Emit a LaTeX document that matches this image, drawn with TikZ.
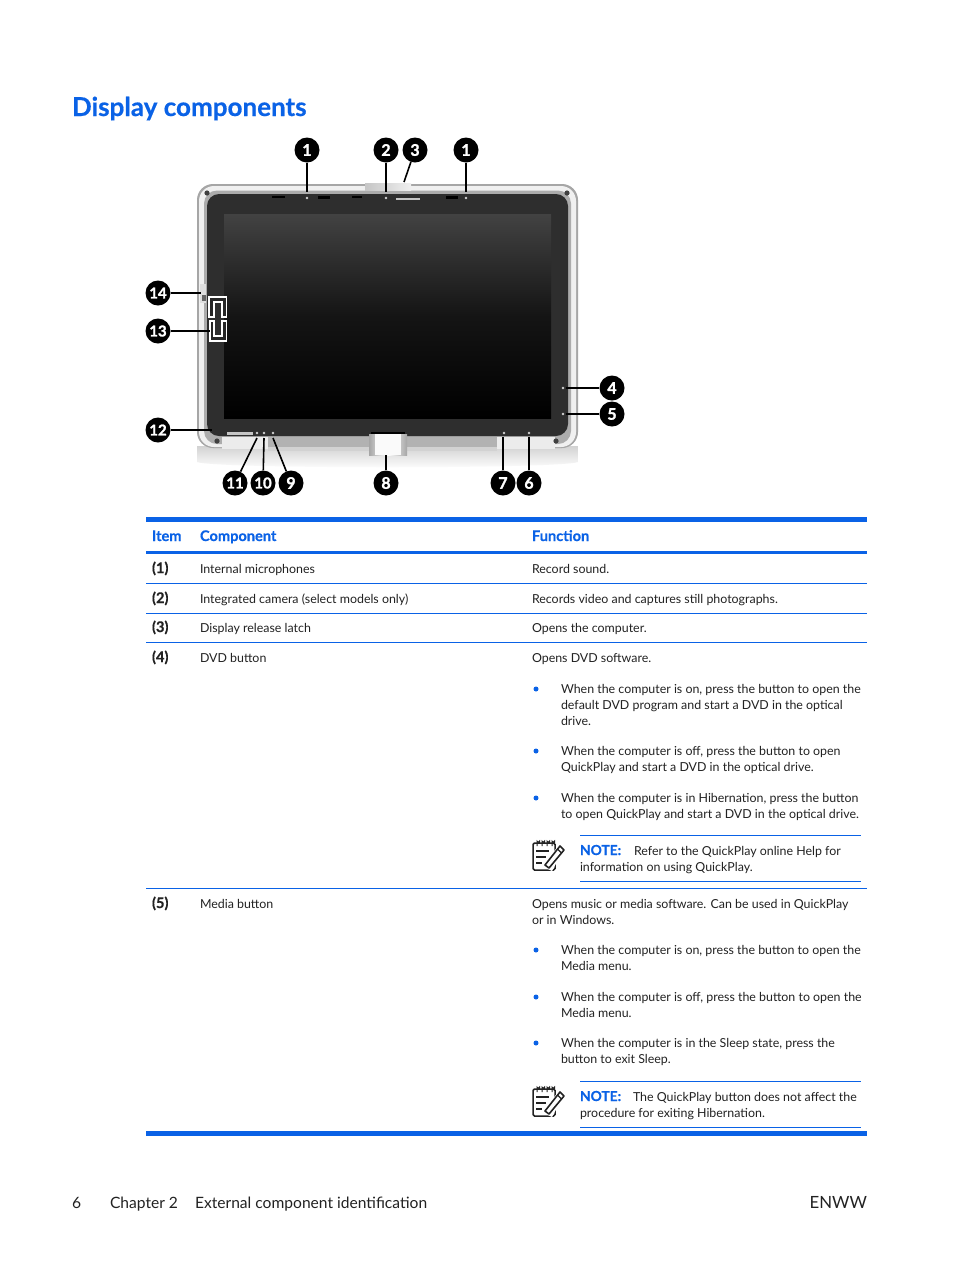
\documentclass[tikz,border=0pt]{standalone}
\usepackage{fontspec}
\setmainfont{Lato}
\newfontfamily\heavy{Lato}[BoldFeatures={FakeBold=1.5}]
\newfontfamily\semi{Lato}[BoldFeatures={FakeBold=0.5}]
\usetikzlibrary{calc}
\definecolor{hpblue}{HTML}{0A62E6}
\definecolor{ink}{HTML}{222222}
\tikzset{
  txt/.style={anchor=base west,inner sep=0pt,outer sep=0pt,text=ink,font=\fontsize{12.4}{16}\selectfont},
  txtbf/.style={txt,font=\fontsize{14.6}{16}\selectfont\semi\bfseries},
  hdr/.style={txt,text=hpblue,font=\fontsize{14.6}{16}\selectfont\semi\bfseries},
  foot/.style={txt,font=\fontsize{15.6}{20}\selectfont},
  callout/.style={circle,fill=black,minimum size=25pt,inner sep=0pt,text=white,font=\fontsize{16}{16}\selectfont\heavy\bfseries},
  calloutb/.style={callout,font=\fontsize{15}{16}\selectfont\heavy\bfseries},
  leader/.style={draw=black,line width=1.6pt},
  rulethin/.style={draw=hpblue,line width=1pt},
  rulethick/.style={fill=hpblue,draw=none},
  bul/.style={circle,fill=hpblue,minimum size=5pt,inner sep=0pt},
  notepad/.pic={
    \draw[line width=1.5pt,draw=ink,rounded corners=1.5pt] (1,4) rectangle (23,31);
    \foreach \k in {5,10,15,20}{\draw[line width=1pt,draw=ink] (\k,7) -- (\k,2) arc (180:0:1.3) -- (\k+2.6,4);}
    \fill[white] (10,27) -- (27,6) -- (33,8) -- (20,32) -- cycle;
    \draw[line width=1.5pt,draw=ink] (4,12) -- (17,12) (4,18) -- (14,18) (4,24) -- (10,24);
    \draw[line width=1.6pt,draw=ink,line join=round] (13,26) -- (28,7) -- (32,11) -- (17,29) -- cycle;
    \draw[line width=1.2pt,draw=ink] (25.5,10) -- (29.5,14);
  }
}
\begin{document}
\begin{tikzpicture}[x=1pt,y=-1pt]
\useasboundingbox (0,0) rectangle (954,1270);
\fill[white] (0,0) rectangle (954,1270);
\node[txt,text=hpblue,font=\fontsize{26}{28}\selectfont\semi\bfseries] (title) at (72,116) {Display components};

% --- laptop
\shade[top color=gray!35,bottom color=white] (197,446) -- (578,446) -- (578,462) .. controls (560,469) and (215,469) .. (197,462) -- cycle;
\fill[gray!70,rounded corners=16pt] (197,184) rectangle (578,448);
\fill[gray!12,rounded corners=15pt] (199,186) rectangle (576,447);
\fill[gray!65,rounded corners=13pt] (204,190.5) rectangle (571,444);
\fill[gray!15] (222,437) rectangle (555,449);
\fill[gray!60] (268,437) rectangle (497,449);
\fill[gray!35] (268,447) rectangle (497,451);
\fill[black!82,rounded corners=12pt] (207,194) rectangle (568,436);
\shade[top color=black!74,bottom color=black,middle color=black!92] (224,214) rectangle (551,418);
% latch and hinge
\shade[left color=gray!45,right color=gray!12] (365,183) rectangle (411,190);
\fill[black] (371,432) rectangle (405,435);
\shade[left color=gray!70,right color=gray!70,middle color=white] (369,434) rectangle (407,455);
\fill[gray!4] (375,434) rectangle (401,455);
% screws
\foreach \p in {(207,193),(567,193),(217,441),(556,441)} \fill[black!75] \p circle (2.6);
% bezel marks
\foreach \p in {(307,198),(466,198),(504,433),(529,433),(563,388),(563,414),(273,433),(264,433),(257,433),(386,198)} \fill[gray!35] \p circle (1.4);
\fill[black] (318,196) rectangle (330,199);
\fill[black] (446,196) rectangle (458,199);
\fill[black] (272,196) rectangle (285,198);
\fill[black] (352,196) rectangle (362,198);
\fill[gray!45] (227,432) rectangle (253,434.5);
\fill[gray!45] (396,198) rectangle (420,199.5);
% slots left
\draw[white,line width=1.1pt,fill=black!85] (209,297) -- (226.5,297) -- (226.5,317) -- (222,317) -- (222,302) -- (214,302) -- (214,317) -- (209,317) -- cycle;
\draw[white,line width=1.1pt,fill=black!85] (210,321) -- (214,321) -- (214,336) -- (222,336) -- (222,321) -- (226.5,321) -- (226.5,341) -- (210,341) -- cycle;
\fill[gray!25] (200,284) rectangle (206,303);
\fill[black!60] (202,295) rectangle (206,301);

% --- targets
\coordinate (t1a) at (307,192);
\coordinate (t2) at (386,192);
\coordinate (t3) at (404,182);
\coordinate (t1b) at (466,192);
\coordinate (t14) at (201,293);
\coordinate (t13) at (210,331);
\coordinate (t12) at (212,430);
\coordinate (t11) at (257,438);
\coordinate (t10) at (264,438);
\coordinate (t9) at (273,438);
\coordinate (t8) at (386,455);
\coordinate (t7) at (503,437);
\coordinate (t6) at (529,437);
\coordinate (t4) at (566,388);
\coordinate (t5) at (566,414);

\node[callout] (c1a) at (307,150) {1};
\node[callout] (c2) at (386,150) {2};
\node[callout] (c3) at (415,150) {3};
\node[callout] (c1b) at (466,150) {1};
\node[calloutb] (c14) at (158,293) {14};
\node[calloutb] (c13) at (158,331) {13};
\node[calloutb] (c12) at (158,430) {12};
\node[calloutb] (c11) at (235,483) {11};
\node[calloutb] (c10) at (263,483) {10};
\node[callout] (c9) at (291,483) {9};
\node[callout] (c8) at (386,483) {8};
\node[callout] (c7) at (503,483) {7};
\node[callout] (c6) at (529,483) {6};
\node[callout] (c4) at (612,388) {4};
\node[callout] (c5) at (612,414) {5};
\foreach \a/\b in {c1a/t1a,c2/t2,c3/t3,c1b/t1b,c14/t14,c13/t13,c12/t12,c11/t11,c10/t10,c9/t9,c8/t8,c7/t7,c6/t6,c4/t4,c5/t5}
  \draw[leader] (\a) -- (\b);

% --- table rules
\fill[rulethick] (146,517) rectangle (867,522);
\fill[rulethick] (146,551) rectangle (867,554);
\fill[rulethick] (146,1131) rectangle (867,1136);
\foreach \y in {583.5,613.5,642.5,888.5} \draw[rulethin] (146,\y) -- (867,\y);
\foreach \y in {835.5,881.5,1081.5,1127.5} \draw[rulethin] (580,\y) -- (861,\y);

% --- header
\node[hdr] (hI) at (152,541) {Item};
\node[hdr] (hC) at (200,541) {Component};
\node[hdr] (hF) at (532,541) {Function};

% --- rows
\node[txtbf] (i1) at (152,573) {(1)};
\node[txt] (n1) at (200,573) {Internal microphones};
\node[txt] (f1) at (532,573) {Record sound.};
\node[txtbf] (i2) at (152,603) {(2)};
\node[txt] (n2) at (200,603) {Integrated camera (select models only)};
\node[txt] (f2) at (532,603) {Records video and captures still photographs.};
\node[txtbf] (i3) at (152,632) {(3)};
\node[txt] (n3) at (200,632) {Display release latch};
\node[txt] (f3) at (532,632) {Opens the computer.};
\node[txtbf] (i4) at (152,662) {(4)};
\node[txt] (n4) at (200,662) {DVD button};
\node[txt] (f4) at (532,662) {Opens DVD software.};

\node[bul] (b1) at (536,689) {};
\node[txt] (l1) at (561,693) {When the computer is on, press the button to open the};
\node[txt] (l2) at (561,709) {default DVD program and start a DVD in the optical};
\node[txt] (l3) at (561,725) {drive.};
\node[bul] (b2) at (536,751) {};
\node[txt] (l4) at (561,755) {When the computer is off, press the button to open};
\node[txt] (l5) at (561,771) {QuickPlay and start a DVD in the optical drive.};
\node[bul] (b3) at (536,798) {};
\node[txt] (l6) at (561,802) {When the computer is in Hibernation, press the button};
\node[txt] (l7) at (561,818) {to open QuickPlay and start a DVD in the optical drive.};

\pic at (532,839) {notepad};
\node[hdr,font=\fontsize{13.8}{16}\selectfont\semi\bfseries] (nt1) at (580,855) {NOTE:};
\node[txt] (nt1a) at (634,855) {Refer to the QuickPlay online Help for};
\node[txt] (nt1b) at (580,871) {information on using QuickPlay.};

\node[txtbf] (i5) at (152,908) {(5)};
\node[txt] (n5) at (200,908) {Media button};
\node[txt] (f5) at (532,908) {Opens music or media software. Can be used in QuickPlay};
\node[txt] (f5b) at (532,924) {or in Windows.};

\node[bul] (b4) at (536,950) {};
\node[txt] (m1) at (561,954) {When the computer is on, press the button to open the};
\node[txt] (m2) at (561,970) {Media menu.};
\node[bul] (b5) at (536,997) {};
\node[txt] (m3) at (561,1001) {When the computer is off, press the button to open the};
\node[txt] (m4) at (561,1017) {Media menu.};
\node[bul] (b6) at (536,1043) {};
\node[txt] (m5) at (561,1047) {When the computer is in the Sleep state, press the};
\node[txt] (m6) at (561,1063) {button to exit Sleep.};

\pic at (532,1085) {notepad};
\node[hdr,font=\fontsize{13.8}{16}\selectfont\semi\bfseries] (nt2) at (580,1101) {NOTE:};
\node[txt] (nt2a) at (633,1101) {The QuickPlay button does not affect the};
\node[txt] (nt2b) at (580,1117) {procedure for exiting Hibernation.};

% --- footer
\node[foot] (p) at (72,1208) {6};
\node[foot] (ch) at (110,1208) {Chapter 2};
\node[foot] (ec) at (195,1208) {External component identification};
\node[foot,anchor=base east,font=\fontsize{16.8}{20}\selectfont] (en) at (867,1208) {ENWW};
\end{tikzpicture}
\end{document}
